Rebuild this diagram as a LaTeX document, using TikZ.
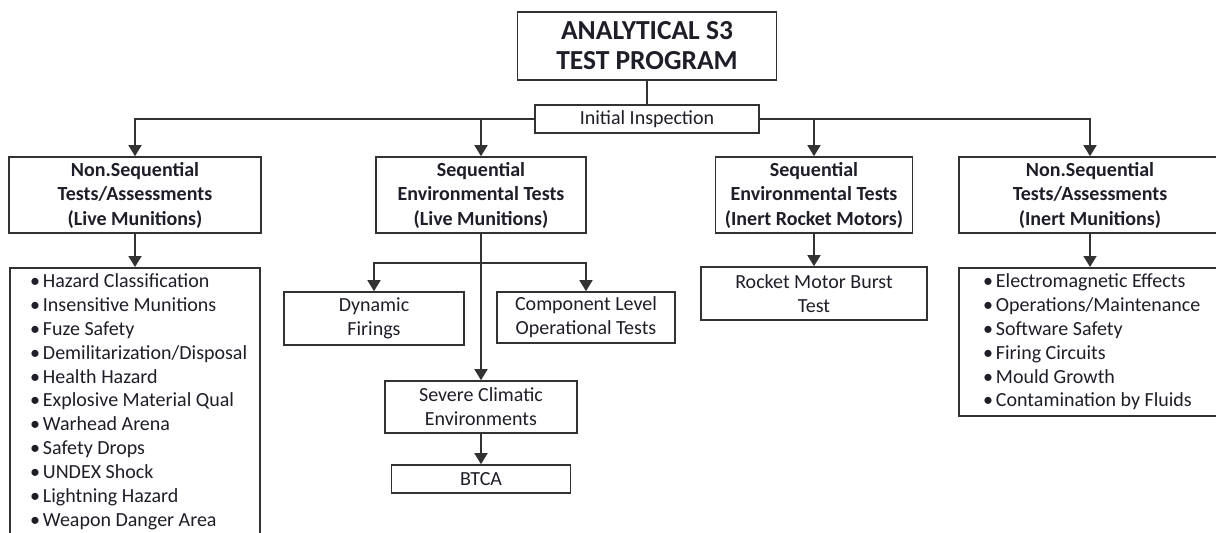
\documentclass[tikz,border=0pt]{standalone}
\usepackage{fontspec}
\setmainfont{Carlito}
\usepackage{xcolor}
\definecolor{s3_line}{RGB}{50, 50, 50}
\definecolor{s3_text}{RGB}{30, 30, 40}
\usepackage{tikz}
\usetikzlibrary{arrows.meta, positioning, calc}
\newcommand{\blt}{\textbullet\nobreak\hspace{3pt}}
\newcommand{\nohyph}{\hyphenpenalty=10000 \exhyphenpenalty=10000 \hbadness=10000 \hfuzz=50pt }

\begin{document}
\begin{tikzpicture}[x=1pt, y=-1pt,
        every node/.style={font=\fontsize{20}{24}\selectfont, text=s3_text},
        box/.style={draw=s3_line, line width=1.6pt, fill=white, align=center, inner sep=0pt},
        head/.style={box, font=\fontsize{20}{24.5}\selectfont\bfseries},
        items/.style={draw=s3_line, line width=1.6pt, fill=white, align=flush left, anchor=north, inner ysep=6pt,
          font=\fontsize{20}{23.85}\selectfont\nohyph},
        link/.style={draw=s3_line, line width=1.6pt},
        >={Triangle[length=11pt, width=13pt]},
      ]
        \useasboundingbox (0,0) rectangle (1216,533);
        \clip (0,0) rectangle (1216,533);

        \node[box, font=\fontsize{27.5}{30}\selectfont\bfseries, minimum width=259, minimum height=68] (title) at (647,46) {ANALYTICAL S3\\TEST PROGRAM};
        \node[box, minimum width=224, minimum height=28] (init) at (647,119) {Initial Inspection};

        \node[head, minimum width=252, minimum height=76] (ns1) at (135,195)  {Non.Sequential\\Tests/Assessments\\(Live Munitions)};
        \node[head, minimum width=210, minimum height=76] (se1) at (481,195)  {Sequential\\Environmental Tests\\(Live Munitions)};
        \node[head, minimum width=197, minimum height=76] (se2) at (814,195)  {Sequential\\Environmental Tests\\(Inert Rocket Motors)};
        \node[head, minimum width=262, minimum height=76] (ns2) at (1090,195) {Non.Sequential\\Tests/Assessments\\(Inert Munitions)};

        \node[items, text width=210, inner xsep=20] (hz) at (135,267) {\blt Hazard Classification\\\blt Insensitive Munitions\\\blt Fuze Safety\\\blt Demilitarization/Disposal\\\blt Health Hazard\\\blt Explosive Material Qual\\\blt Warhead Arena\\\blt Safety Drops\\\blt UNDEX Shock\\\blt Lightning Hazard\\\blt Weapon Danger Area};

        \node[box, minimum width=180, minimum height=53] (dyn)  at (374,318.5) {Dynamic\\Firings};
        \node[box, minimum width=178, minimum height=51] (comp) at (586,317.5) {Component Level\\Operational Tests};
        \node[box, minimum width=192, minimum height=52] (sev)  at (481,407)   {Severe Climatic\\Environments};
        \node[box, minimum width=179, minimum height=28] (btca) at (481,479)   {BTCA};

        \node[box, minimum width=226, minimum height=53] (rmb) at (814,293.5) {Rocket Motor Burst\\Test};

        \node[items, text width=214, inner xsep=24] (em) at (1090,267) {\blt Electromagnetic Effects\\\blt Operations/Maintenance\\\blt Software Safety\\\blt Firing Circuits\\\blt Mould Growth\\\blt Contamination by Fluids};

        \coordinate (split) at (481,263);

        \draw[link] (title) -- (init);
        \draw[link, ->] (init.west) -| (ns1);
        \draw[link, ->] (init.west) -| (se1);
        \draw[link, ->] (init.east) -| (se2);
        \draw[link, ->] (init.east) -| (ns2);
        \draw[link, ->] (ns1) -- (hz);
        \draw[link, ->] (se1) -- (sev);
        \draw[link, ->] (split) -| (dyn);
        \draw[link, ->] (split) -| (comp);
        \draw[link, ->] (sev) -- (btca);
        \draw[link, ->] (se2) -- (rmb);
        \draw[link, ->] (ns2) -- (em);
      \end{tikzpicture}
\end{document}
